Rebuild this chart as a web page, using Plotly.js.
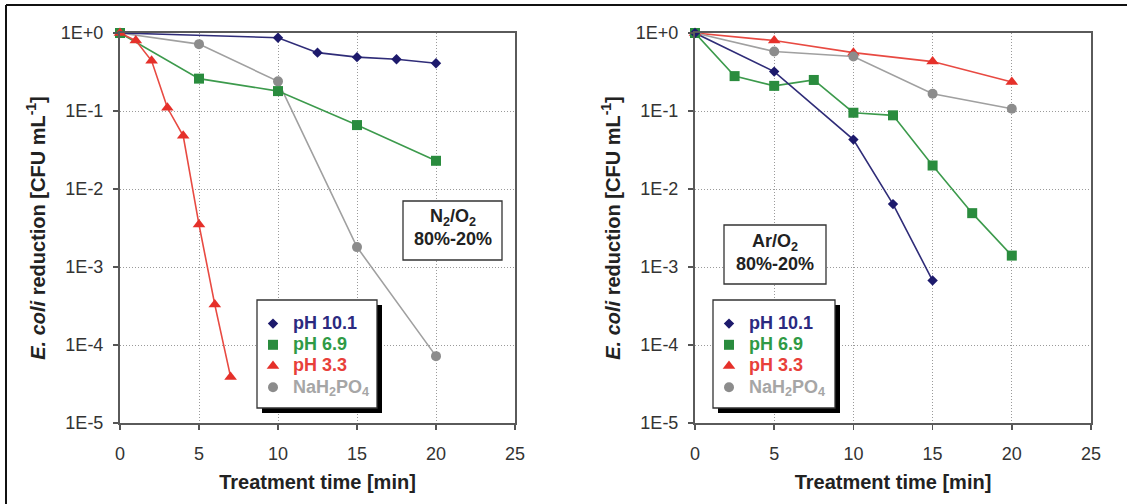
<!DOCTYPE html>
<html>
<head>
<meta charset="utf-8">
<script src="https://cdn.plot.ly/plotly-3.0.1.min.js"></script>
<style>html,body{margin:0;padding:0;background:#fff;} #chart{width:1127px;height:504px;}</style>
</head>
<body>
<div id="chart"></div>
<script>
// ---------- data ----------
// Left panel: N2/O2 80%-20%
const n2TimePH101 = [0, 10, 12.5, 15, 17.5, 20];
const n2PH101     = [1, 0.87, 0.56, 0.49, 0.46, 0.41];
const n2TimePH69  = [0, 5, 10, 15, 20];
const n2PH69      = [1, 0.26, 0.18, 0.066, 0.023];
const n2TimePH33  = [0, 1, 2, 3, 4, 5, 6, 7];
const n2PH33      = [1, 0.80, 0.44, 0.11, 0.048, 0.0035, 0.00033, 0.000039];
const n2TimePhos  = [0, 5, 10, 15, 20];
const n2Phos      = [1, 0.72, 0.24, 0.0018, 0.000072];

// Right panel: Ar/O2 80%-20%
const arTimePH101 = [0, 5, 10, 12.5, 15];
const arPH101     = [1, 0.32, 0.043, 0.0064, 0.00067];
const arTimePH69  = [0, 2.5, 5, 7.5, 10, 12.5, 15, 17.5, 20];
const arPH69      = [1, 0.28, 0.21, 0.25, 0.095, 0.088, 0.020, 0.0049, 0.0014];
const arTimePH33  = [0, 5, 10, 15, 20];
const arPH33      = [1, 0.80, 0.56, 0.43, 0.235];
const arTimePhos  = [0, 5, 10, 15, 20];
const arPhos      = [1, 0.58, 0.50, 0.166, 0.107];

const seriesNames = ['pH 10.1', 'pH 6.9', 'pH 3.3', 'NaH<sub>2</sub>PO<sub>4</sub>'];
const xTickVals = [0, 5, 10, 15, 20, 25];
const yTickVals = [1e-5, 1e-4, 1e-3, 1e-2, 1e-1, 1];
const yTickText = ['1E-5', '1E-4', '1E-3', '1E-2', '1E-1', '1E+0'];
const panelLabels = ['N<sub>2</sub>/O<sub>2</sub><br>80%-20%', 'Ar/O<sub>2</sub><br>80%-20%'];
const xTitle = 'Treatment time [min]';
const yTitle = '<i>E. coli</i> reduction [CFU mL<sup>-1</sup>]';

// ---------- styles ----------
const W = 1127, H = 504;
const px = v => v / W;
const py = v => 1 - v / H;
const FONT = 'Liberation Sans, Arial, sans-serif';

const styles = [
  {symbol: 'diamond',     size: 8,  mcolor: '#1d1a6c', lcolor: '#2f2c78', tcolor: '#2b2a80'},
  {symbol: 'square',      size: 10, mcolor: '#2a8c3e', lcolor: '#3c9a4c', tcolor: '#2f9a45'},
  {symbol: 'triangle-up', size: 11, mcolor: '#e5302a', lcolor: '#e84a42', tcolor: '#e8403a'},
  {symbol: 'circle',      size: 10, mcolor: '#8c8c8c', lcolor: '#a0a0a0', tcolor: '#a6a6a6'}
];

const panels = [
  {xa: 'x', ya: 'y', legend: 'legend',
   series: [[n2TimePH101, n2PH101], [n2TimePH69, n2PH69], [n2TimePH33, n2PH33], [n2TimePhos, n2Phos]],
   order: [3, 0, 1, 2]},
  {xa: 'x2', ya: 'y2', legend: 'legend2',
   series: [[arTimePH101, arPH101], [arTimePH69, arPH69], [arTimePH33, arPH33], [arTimePhos, arPhos]],
   order: [2, 3, 1, 0]}
];

const traces = [];
// lines first
panels.forEach(p => {
  p.order.forEach(i => {
    const s = styles[i];
    traces.push({
      x: p.series[i][0], y: p.series[i][1], xaxis: p.xa, yaxis: p.ya,
      mode: 'lines', line: {color: s.lcolor, width: 1.6},
      showlegend: false, hoverinfo: 'skip', cliponaxis: false
    });
  });
});
// markers on top, carrying legend entries
panels.forEach(p => {
  p.order.forEach(i => {
    const s = styles[i];
    traces.push({
      x: p.series[i][0], y: p.series[i][1], xaxis: p.xa, yaxis: p.ya,
      mode: 'markers', legend: p.legend, legendrank: i + 1,
      name: '<span style="color:' + s.tcolor + ';font-size:18px">' + seriesNames[i] + '</span>',
      marker: {symbol: s.symbol, size: s.size, color: s.mcolor, line: {width: 0}},
      cliponaxis: false
    });
  });
});

const GRID = {showgrid: true, gridcolor: '#9a9a9a', griddash: '1px,2px', gridwidth: 1};

function xAxis(domain, anchor) {
  return Object.assign({
    domain: domain, anchor: anchor, range: [0, 25],
    tickmode: 'array', tickvals: xTickVals, ticktext: xTickVals.map(String),
    ticks: 'outside', ticklen: 5, tickwidth: 1.5, tickcolor: '#555', ticklabelstandoff: 8,
    showline: true, linecolor: '#5a5a5a', linewidth: 2, mirror: true, zeroline: false,
    tickfont: {family: FONT, size: 18, color: '#333'},
    title: {text: xTitle, font: {family: FONT, size: 20, color: '#222', weight: 'bold'}, standoff: 12},
    automargin: false
  }, GRID);
}
function yAxis(domain, anchor) {
  return Object.assign({
    domain: domain, anchor: anchor, type: 'log', range: [-5, 0],
    tickmode: 'array', tickvals: yTickVals, ticktext: yTickText,
    ticks: 'outside', ticklen: 5, tickwidth: 1.5, tickcolor: '#555', ticklabelstandoff: 6,
    showline: true, linecolor: '#5a5a5a', linewidth: 2, mirror: true, zeroline: false,
    tickfont: {family: FONT, size: 18, color: '#333'},
    title: {text: yTitle, font: {family: FONT, size: 20, color: '#222', weight: 'bold'}, standoff: 10},
    automargin: false
  }, GRID);
}

const yDom = [py(423), py(33)];
const legendBase = {
  bgcolor: 'rgba(0,0,0,0)', borderwidth: 0,
  font: {family: FONT, size: 14, color: '#333', weight: 'bold'},
  xanchor: 'left', yanchor: 'top', traceorder: 'normal', itemwidth: 30
};

const boxes = [
  {x0: 257, x1: 377, y0: 300, y1: 408, shadow: true},
  {x0: 713, x1: 835, y0: 300, y1: 408, shadow: true},
  {x0: 403, x1: 502, y0: 201, y1: 260, shadow: false},
  {x0: 724, x1: 826, y0: 225, y1: 284, shadow: false}
];
const shapes = [];
boxes.forEach(b => {
  if (b.shadow) {
    shapes.push({type: 'rect', xref: 'paper', yref: 'paper', layer: 'above',
      x0: px(b.x0 + 5), x1: px(b.x1 + 5), y0: py(b.y1 + 5), y1: py(b.y0 + 5),
      fillcolor: '#000', line: {width: 0}});
  }
  shapes.push({type: 'rect', xref: 'paper', yref: 'paper', layer: 'above',
    x0: px(b.x0), x1: px(b.x1), y0: py(b.y1), y1: py(b.y0),
    fillcolor: '#fff', line: {color: '#333', width: 1.3}});
});
// outer frame (left and top edges visible in the reference)
shapes.push({type: 'line', xref: 'paper', yref: 'paper', x0: px(6), x1: px(6), y0: 0, y1: py(5), line: {color: '#111', width: 2}});
shapes.push({type: 'line', xref: 'paper', yref: 'paper', x0: px(6), x1: 1, y0: py(5), y1: py(5), line: {color: '#111', width: 2}});

const annotations = [
  {xref: 'paper', yref: 'paper', x: px(453), y: py(228), xanchor: 'center', yanchor: 'middle',
   text: panelLabels[0], showarrow: false, font: {family: FONT, size: 18, color: '#222', weight: 'bold'}},
  {xref: 'paper', yref: 'paper', x: px(775), y: py(252), xanchor: 'center', yanchor: 'middle',
   text: panelLabels[1], showarrow: false, font: {family: FONT, size: 18, color: '#222', weight: 'bold'}}
];

const layout = {
  width: W, height: H,
  margin: {l: 0, r: 0, t: 0, b: 0},
  paper_bgcolor: '#fff', plot_bgcolor: '#fff',
  font: {family: FONT, color: '#333'},
  xaxis: xAxis([px(120), px(515)], 'y'),
  yaxis: yAxis(yDom, 'x'),
  xaxis2: xAxis([px(695), px(1091)], 'y2'),
  yaxis2: yAxis(yDom, 'x2'),
  legend: Object.assign({x: px(253), y: py(308)}, legendBase),
  legend2: Object.assign({x: px(709), y: py(308)}, legendBase),
  shapes: shapes,
  annotations: annotations,
  showlegend: true
};

Plotly.newPlot('chart', traces, layout, {staticPlot: true, displayModeBar: false});
</script>
</body>
</html>
